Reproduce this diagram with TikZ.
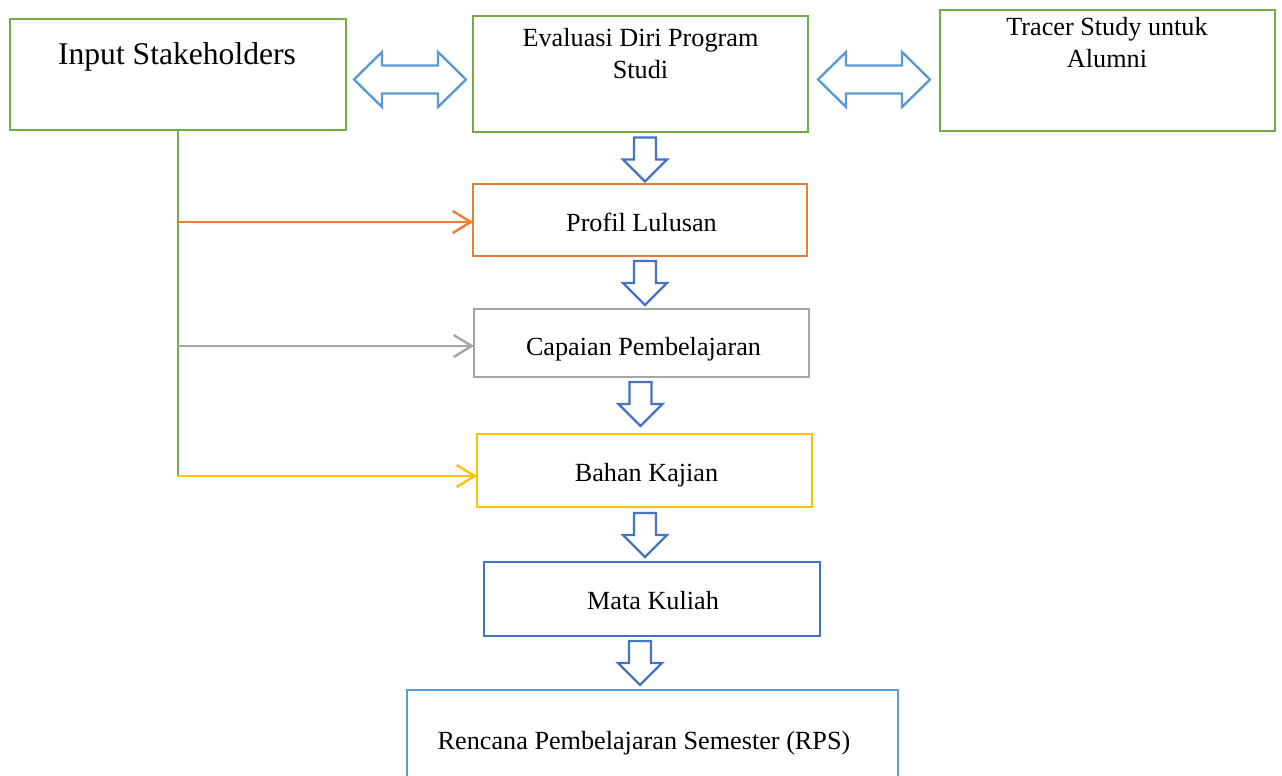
\documentclass[tikz,border=0pt]{standalone}
\usepackage{fontspec}
\setmainfont{Liberation Serif}
\usetikzlibrary{arrows.meta}
\definecolor{cgreen}{HTML}{70AD47}
\definecolor{corange}{HTML}{ED7D31}
\definecolor{cgray}{HTML}{A5A5A5}
\definecolor{cyellow}{HTML}{FFC000}
\definecolor{cblue}{HTML}{4472C4}
\definecolor{clblue}{HTML}{5B9BD5}
\begin{document}
\begin{tikzpicture}[x=1pt,y=-1pt,
  box/.style={draw, line width=2.4pt, inner sep=0pt, outer sep=0pt},
  txt/.style={font=\fontsize{26.2}{32}\selectfont, inner sep=0pt, anchor=base, align=center},
  bigtxt/.style={font=\fontsize{31.6}{36}\selectfont, inner sep=0pt, anchor=base},
  blockarrow/.style={draw=cblue, line width=2.4pt, line join=miter, fill=white},
  dblarrow/.style={draw=clblue, line width=2.4pt, line join=miter, fill=white},
  feed/.style={line width=2.4pt, -{Straight Barb[length=18pt,width=22pt]}},
  downarr/.pic={\path[blockarrow] (-11,0) -- (11,0) -- (11,22) -- (22,22) -- (0,44) -- (-22,22) -- (-11,22) -- cycle;},
  lrarr/.pic={\path[dblarrow] (-56,0) -- (-28,-27.5) -- (-28,-14) -- (28,-14) -- (28,-27.5) -- (56,0) -- (28,27.5) -- (28,14) -- (-28,14) -- (-28,27.5) -- cycle;}
]
\useasboundingbox (0,0) rectangle (1282,776);

% boxes
\node[box, draw=cgreen, minimum width=336pt, minimum height=111pt] (in) at (178,74.5) {};
\node[box, draw=cgreen, minimum width=335pt, minimum height=116pt] (ev) at (640.5,74) {};
\node[box, draw=cgreen, minimum width=335pt, minimum height=121pt] (tr) at (1107.5,70.5) {};
\node[box, draw=corange, minimum width=334pt, minimum height=72pt] (pr) at (640,220) {};
\node[box, draw=cgray, minimum width=335pt, minimum height=68pt] (cp) at (641.5,343) {};
\node[box, draw=cyellow, minimum width=335pt, minimum height=73pt] (bk) at (644.5,470.5) {};
\node[box, draw=cblue, minimum width=336pt, minimum height=74pt] (mk) at (652,599) {};
\node[box, draw=clblue, minimum width=491pt, minimum height=110pt] (rp) at (652.5,745) {};

% texts (anchor=base is the baseline of the last line)
\node[bigtxt] (tin) at (177,65) {Input Stakeholders};
\node[txt] (tev) at (640.5,78) {Evaluasi Diri Program\\Studi};
\node[txt] (ttr) at (1107,67) {Tracer Study untuk\\Alumni};
\node[txt] (tpr) at (641.5,231) {Profil Lulusan};
\node[txt] (tcp) at (643.5,355) {Capaian Pembelajaran};
\node[txt] (tbk) at (646.5,481) {Bahan Kajian};
\node[txt] (tmk) at (653,609) {Mata Kuliah};
\node[txt] (trp) at (644,749) {Rencana Pembelajaran Semester (RPS)};

% double arrows
\pic at (410,79.5) {lrarr};
\pic at (874,79.5) {lrarr};

% down arrows
\pic at (645,137.5) {downarr};
\pic at (645,261) {downarr};
\pic at (640.5,382) {downarr};
\pic at (645,513) {downarr};
\pic at (640,641) {downarr};

% feed lines
\coordinate (c1) at (178,222);
\coordinate (c2) at (178,346);
\coordinate (c3) at (178,476);
\draw[cgreen, line width=1.5pt] (in.south) -- (c3);
\draw[feed, corange] (c1) -- (c1 -| pr.west);
\draw[feed, cgray] (c2) -- (c2 -| cp.west);
\draw[feed, cyellow] (c3) -- (c3 -| bk.west);
\end{tikzpicture}
\end{document}
